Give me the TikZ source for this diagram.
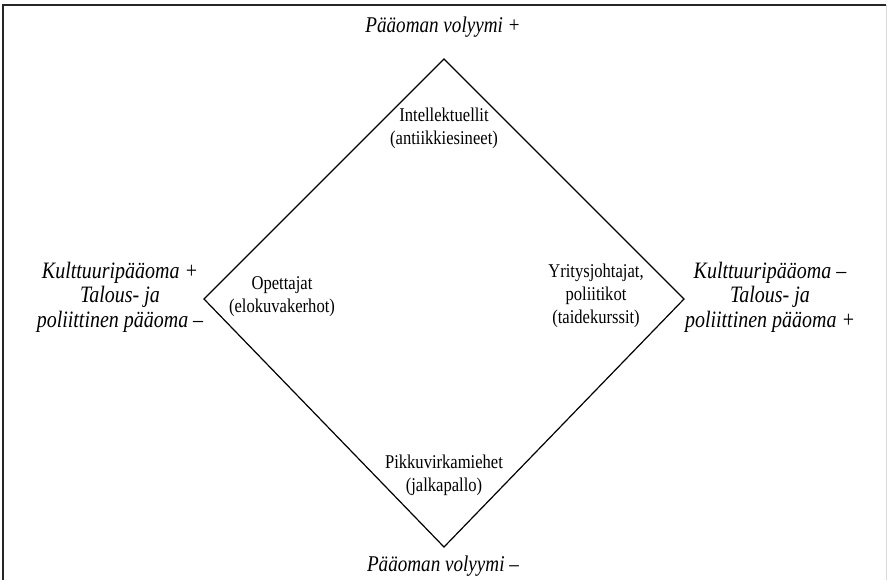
\documentclass[tikz,border=0pt]{standalone}
\usepackage{fontspec}
\setmainfont[FakeStretch=0.85]{Liberation Serif}
\begin{document}
\begin{tikzpicture}[x=1pt,y=-1pt,
  role/.style={font=\fontsize{19.5}{23}\selectfont, align=center, inner sep=0pt},
  pole/.style={font=\fontsize{22.5}{24.5}\selectfont\itshape, align=center, inner sep=0pt},
  sidepole/.style={pole, font=\fontsize{23.5}{24.5}\selectfont\itshape},
  frameline/.style={line width=2pt, black!85},
  diamondline/.style={line width=1.2pt, black}]
\useasboundingbox (0,0) rectangle (888,579);

% outer frame (open at the bottom of the page)
\begin{scope}
  \clip (0,0) rectangle (888,579);
  \draw[frameline] (3,600) -- (3,5) -- (886,5);
  \draw[line width=1pt, black!15] (886,5) -- (886,600);
\end{scope}

% corners of the social space diamond
\coordinate (top) at (444,59);
\coordinate (right) at (684,299);
\coordinate (bottom) at (444,547);
\coordinate (left) at (204,299);
\draw[diamondline] (top) -- (right) -- (bottom) -- (left) -- cycle;

% axis poles
\node[pole] (ptop) at (443,27) {Pääoman volyymi +};
\node[pole] (pbottom) at (443,566) {Pääoman volyymi –};
\node[sidepole] (pleft) at (120,297) {Kulttuuripääoma +\\Talous- ja\\poliittinen pääoma –};
\node[sidepole] (pright) at (770,297) {Kulttuuripääoma –\\Talous- ja\\poliittinen pääoma +};

% occupational groups and their tastes
\node[role] (intel) at (444,128) {Intellektuellit\\(antiikkiesineet)};
\node[role] (teach) at (282,297) {Opettajat\\(elokuvakerhot)};
\node[role] (exec) at (596,296) {Yritysjohtajat,\\poliitikot\\(taidekurssit)};
\node[role] (clerk) at (444,475) {Pikkuvirkamiehet\\(jalkapallo)};
\end{tikzpicture}
\end{document}
